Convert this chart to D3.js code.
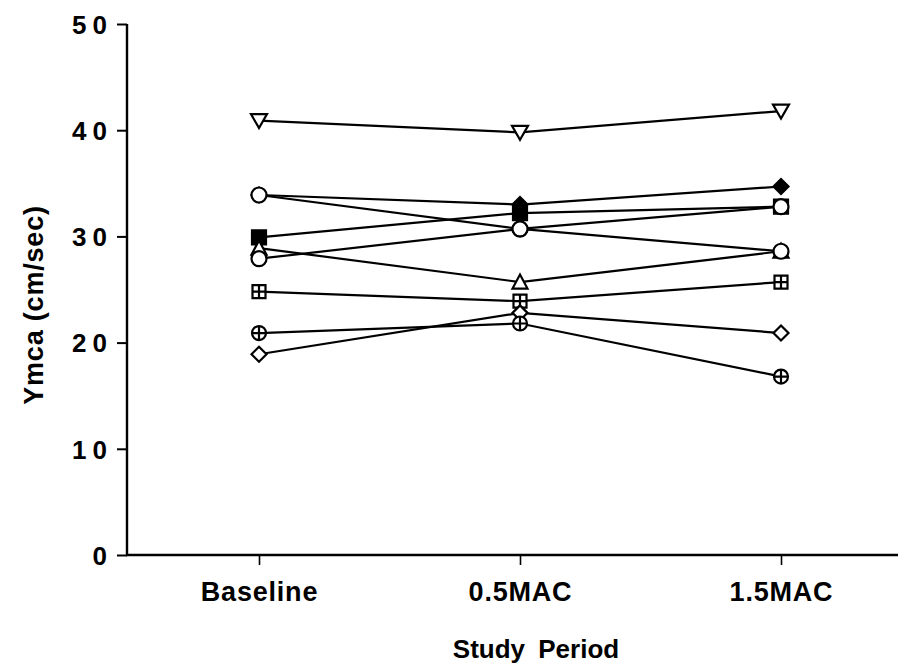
<!DOCTYPE html>
<html lang="en">
<head>
  <meta charset="utf-8">
  <title>Ymca by Study Period</title>
  <script src="https://d3js.org/d3.v7.min.js"></script>
  <style>
    body { margin: 0; background: #fff; }
    text { font-family: "Liberation Sans", Arial, sans-serif; font-weight: bold; fill: #000; }
  </style>
</head>
<body>
<script>
  // study periods along the x axis
  var periods = ["Baseline", "0.5MAC", "1.5MAC"];
  var yTicks = [0, 10, 20, 30, 40, 50];

  // one array per subject
  var triDown   = [40.9, 39.8, 41.8];
  var diamFill  = [33.9, 33.0, 34.7];
  var sqFill    = [29.9, 32.2, 32.8];
  var triUp     = [28.9, 25.7, 28.6];
  var circHigh  = [33.9, 30.7, 28.6];
  var circLow   = [27.9, 30.7, 32.8];
  var sqPlus    = [24.8, 23.9, 25.7];
  var diamOpen  = [18.9, 22.8, 20.9];
  var circPlus  = [20.9, 21.8, 16.8];

  // draw order matters: later markers sit on top
  var subjects = [
    { marker: "triDown",  values: triDown },
    { marker: "diamFill", values: diamFill },
    { marker: "sqFill",   values: sqFill },
    { marker: "triUp",    values: triUp },
    { marker: "circle",   values: circHigh },
    { marker: "circle",   values: circLow },
    { marker: "sqPlus",   values: sqPlus },
    { marker: "diamOpen", values: diamOpen },
    { marker: "circPlus", values: circPlus }
  ];

  var w = 898, h = 664;

  var svg = d3.select("body").append("svg")
    .attr("width", w)
    .attr("height", h);

  var x = d3.scalePoint().domain(periods).range([259, 781]);
  var y = d3.scaleLinear().domain([0, 50]).range([555, 24]);

  // y axis
  var yAxis = d3.axisLeft(y).tickValues(yTicks).tickSize(10).tickPadding(6);
  var gy = svg.append("g").attr("transform", "translate(127,0)").call(yAxis);
  gy.select(".domain").attr("stroke-width", 2.4).attr("d", "M0,24V555");
  gy.selectAll(".tick line").attr("stroke-width", 2);
  gy.selectAll(".tick text")
    .style("font-size", "26px")
    .style("letter-spacing", "6px")
    .attr("dy", "0.36em")
    .attr("x", -14);

  // x axis line spans to the right edge
  svg.append("line")
    .attr("x1", 126).attr("x2", 898)
    .attr("y1", 555).attr("y2", 555)
    .attr("stroke", "#000").attr("stroke-width", 2.4);

  var xAxis = d3.axisBottom(x).tickSize(10).tickPadding(17);
  var gx = svg.append("g").attr("transform", "translate(0,555)").call(xAxis);
  gx.select(".domain").remove();
  gx.selectAll(".tick line").attr("stroke-width", 1.6);
  gx.selectAll(".tick text")
    .style("font-size", "27px")
    .style("letter-spacing", "0.8px")
    .attr("dy", "0.71em");

  svg.append("text")
    .attr("x", 536).attr("y", 658)
    .attr("text-anchor", "middle")
    .style("font-size", "26px")
    .style("word-spacing", "6px")
    .text("Study Period");

  svg.append("text")
    .attr("transform", "translate(43,305) rotate(-90)")
    .attr("text-anchor", "middle")
    .style("font-size", "27px")
    .style("letter-spacing", "0.8px")
    .text("Ymca (cm/sec)");

  // lines
  var line = d3.line()
    .x(function(d, i) { return x(periods[i]); })
    .y(function(d) { return y(d); });

  svg.append("g").selectAll("path")
    .data(subjects)
    .enter().append("path")
    .attr("d", function(d) { return line(d.values); })
    .attr("fill", "none")
    .attr("stroke", "#000")
    .attr("stroke-width", 2.2);

  // markers
  function markerPath(type) {
    switch (type) {
      case "triDown":  return "M-8,-6.5L8,-6.5L0,7.5Z";
      case "triUp":    return "M-7.5,6.5L7.5,6.5L0,-7.5Z";
      case "diamFill": return "M0,-7.5L7.5,0L0,7.5L-7.5,0Z";
      case "diamOpen": return "M0,-7.5L7.5,0L0,7.5L-7.5,0Z";
      case "sqFill":   return "M-7,-7H7V7H-7Z";
      case "sqPlus":   return "M-6.5,-6.5H6.5V6.5H-6.5ZM0,-6.5V6.5M-6.5,0H6.5";
      case "circle":   return "M-7.5,0A7.5,7.5 0 1,0 7.5,0A7.5,7.5 0 1,0 -7.5,0Z";
      case "circPlus": return "M-7,0A7,7 0 1,0 7,0A7,7 0 1,0 -7,0ZM0,-7V7M-7,0H7";
    }
  }

  var mg = svg.append("g");
  subjects.forEach(function(s) {
    mg.selectAll(null)
      .data(s.values)
      .enter().append("path")
      .attr("transform", function(d, i) {
        return "translate(" + x(periods[i]) + "," + y(d) + ")";
      })
      .attr("d", markerPath(s.marker))
      .attr("fill", (s.marker === "diamFill" || s.marker === "sqFill") ? "#000" : "#fff")
      .attr("stroke", "#000")
      .attr("stroke-width", 2.2);
  });
</script>
</body>
</html>
